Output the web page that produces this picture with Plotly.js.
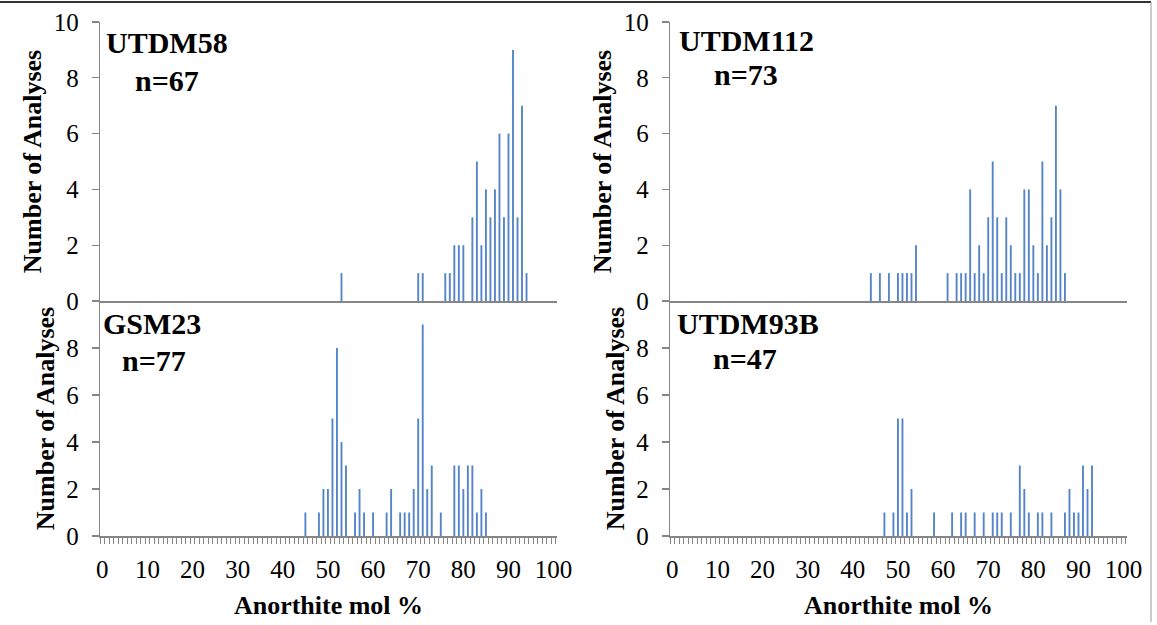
<!DOCTYPE html>
<html><head><meta charset="utf-8">
<script src="https://cdn.plot.ly/plotly-3.0.1.min.js"></script>
<style>html,body{margin:0;padding:0;background:#fff}#chart{width:1157px;height:625px}</style>
</head><body><div id="chart"></div>
<script>
// ---- data (Anorthite mol % bins and number of analyses) ----
const utdm58Anorthite = [53,70,71,76,77,78,79,80,82,83,84,85,86,87,88,89,90,91,92,93,94];
const utdm58Count     = [1, 1, 1, 1, 1, 2, 2, 2, 3, 5, 2, 4, 3, 4, 6, 3, 6, 9, 3, 7, 1];

const utdm112Anorthite = [44,46,48,50,51,52,53,54,61,63,64,65,66,67,68,69,70,71,72,73,74,75,76,77,78,79,80,81,82,83,84,85,86,87];
const utdm112Count     = [1, 1, 1, 1, 1, 1, 1, 2, 1, 1, 1, 1, 4, 1, 2, 1, 3, 5, 3, 1, 3, 2, 1, 1, 4, 4, 2, 1, 5, 2, 3, 7, 4, 1];

const gsm23Anorthite = [45,48,49,50,51,52,53,54,56,57,58,60,63,64,66,67,68,69,70,71,72,73,75,78,79,80,81,82,83,84,85];
const gsm23Count     = [1, 1, 2, 2, 5, 8, 4, 3, 1, 2, 1, 1, 1, 2, 1, 1, 1, 2, 5, 9, 2, 3, 1, 3, 3, 2, 3, 3, 1, 2, 1];

const utdm93bAnorthite = [47,49,50,51,52,53,58,62,64,65,67,69,71,72,73,75,77,78,79,81,82,84,87,88,89,90,91,92,93];
const utdm93bCount     = [1, 1, 5, 5, 1, 2, 1, 1, 1, 1, 1, 1, 1, 1, 1, 1, 3, 2, 1, 1, 1, 1, 1, 2, 1, 1, 3, 2, 3];

const sampleNames = ['UTDM58','UTDM112','GSM23','UTDM93B'];
const sampleN     = ['n=67','n=73','n=77','n=47'];

const xTickVals = [0,10,20,30,40,50,60,70,80,90,100];
const xTickText = ['0','10','20','30','40','50','60','70','80','90','100'];
const yTopTicks = [0,2,4,6,8,10];
const yBottomTicks = [0,2,4,6,8];

const xTitle = 'Anorthite mol %';
const yTitle = 'Number of Analyses';

// ---- layout helpers ----
const W = 1157, H = 625;
const px = v => v / W;
const py = v => 1 - v / H;
const SERIF = 'Liberation Serif, Times New Roman, serif';
const AX = '#868686';
const BAR = '#5585C8';

const leftDom  = [px(100), px(557)];
const rightDom = [px(670), px(1127)];
const topDom   = [py(301), py(22)];
const botDom   = [py(536), py(301)];
const XR = [-0.5, 100.75];

function yAxis(dom, xa, ticks) {
  return {
    domain: dom, anchor: xa, range: [0, 10],
    showline: true, linecolor: AX, linewidth: 1.3,
    ticks: 'outside', ticklen: 7, tickcolor: AX, tickwidth: 1.3,
    tickmode: 'array', tickvals: ticks, ticktext: ticks.map(String),
    tickfont: {family: SERIF, size: 25, color: '#000'},
    ticklabelstandoff: 8,
    showgrid: false, zeroline: false, fixedrange: true,
    title: {text: '<b>' + yTitle + '</b>', font: {family: SERIF, size: 26, color: '#000'}, standoff: 4}
  };
}
function xTop(dom, ya) {
  return {
    domain: dom, anchor: ya, range: XR,
    showline: true, linecolor: AX, linewidth: 1.5,
    ticks: '', showticklabels: false, showgrid: false, zeroline: false, fixedrange: true
  };
}
function xBottom(dom, ya) {
  return {
    domain: dom, anchor: ya, range: XR,
    showline: true, linecolor: AX, linewidth: 1.5,
    tickmode: 'array', tickvals: xTickVals, ticktext: xTickText,
    ticks: 'outside', ticklen: 10, tickcolor: 'rgba(0,0,0,0)',
    minor: {tickmode: 'linear', tick0: -0.5, dtick: 1, ticks: 'outside', ticklen: 6, tickcolor: AX, tickwidth: 1, showgrid: false},
    tickfont: {family: SERIF, size: 25, color: '#000'},
    showgrid: false, zeroline: false, fixedrange: true,
    title: {text: '<b>' + xTitle + '</b>', font: {family: SERIF, size: 26, color: '#000'}, standoff: 14}
  };
}

function barTrace(x, y, xa, ya) {
  return {type: 'bar', x: x, y: y, xaxis: xa, yaxis: ya, width: 0.42,
          marker: {color: BAR, line: {width: 0}}, showlegend: false, hoverinfo: 'x+y'};
}

const data = [
  barTrace(utdm58Anorthite, utdm58Count, 'x', 'y'),
  barTrace(utdm112Anorthite, utdm112Count, 'x2', 'y2'),
  barTrace(gsm23Anorthite, gsm23Count, 'x3', 'y3'),
  barTrace(utdm93bAnorthite, utdm93bCount, 'x4', 'y4')
];

function label(text, x, y) {
  return {text: '<b>' + text + '</b>', xref: 'paper', yref: 'paper', x: px(x), y: py(y),
          xanchor: 'center', yanchor: 'middle', showarrow: false,
          font: {family: SERIF, size: 30, color: '#000'}};
}

const layout = {
  width: W, height: H,
  margin: {l: 0, r: 0, t: 0, b: 0},
  paper_bgcolor: '#fff', plot_bgcolor: 'rgba(0,0,0,0)',
  showlegend: false,
  xaxis: xTop(leftDom, 'y'),   yaxis: yAxis(topDom, 'x', yTopTicks),
  xaxis2: xTop(rightDom, 'y2'), yaxis2: yAxis(topDom, 'x2', yTopTicks),
  xaxis3: xBottom(leftDom, 'y3'), yaxis3: yAxis(botDom, 'x3', yBottomTicks),
  xaxis4: xBottom(rightDom, 'y4'), yaxis4: yAxis(botDom, 'x4', yBottomTicks),
  annotations: [
    label(sampleNames[0], 166.5, 43), label(sampleN[0], 166.7, 80),
    label(sampleNames[1], 746, 41),   label(sampleN[1], 745.7, 74),
    label(sampleNames[2], 152.5, 323), label(sampleN[2], 153.5, 360),
    label(sampleNames[3], 748, 323),  label(sampleN[3], 745, 358)
  ],
  shapes: [
    {type: 'line', xref: 'paper', yref: 'paper', x0: 0, x1: px(1151), y0: py(2), y1: py(2), line: {color: '#333', width: 2}},
    {type: 'line', xref: 'paper', yref: 'paper', x0: px(1151), x1: px(1151), y0: py(2), y1: py(622), line: {color: '#999', width: 1}}
  ]
};

Plotly.newPlot('chart', data, layout, {displayModeBar: false, staticPlot: true});
</script>
</body></html>
